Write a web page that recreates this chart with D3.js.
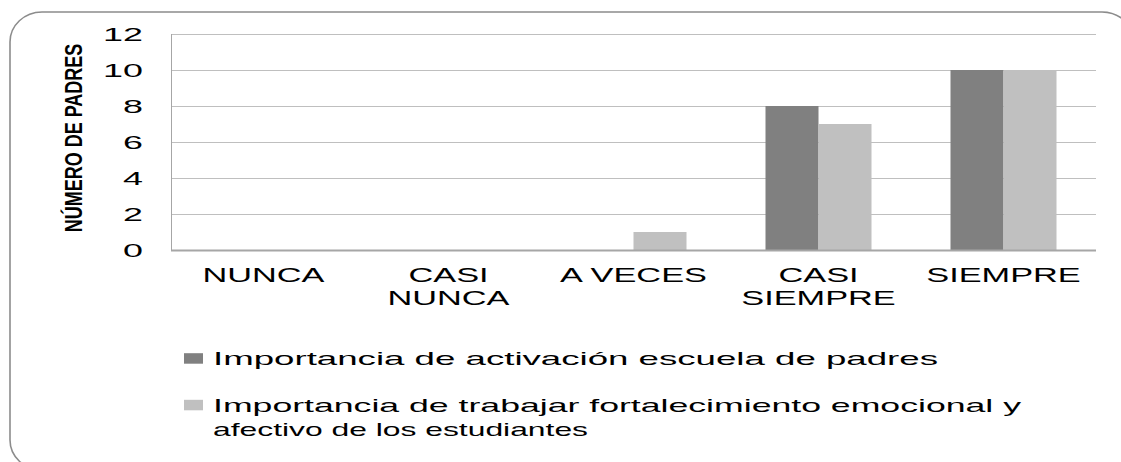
<!DOCTYPE html>
<html>
<head>
<meta charset="utf-8">
<script src="https://cdn.jsdelivr.net/npm/d3@7"></script>
<style>
  html, body { margin: 0; padding: 0; background: #fff; }
  svg { display: block; }
  text { font-family: "Liberation Sans", Arial, sans-serif; fill: #000; }
</style>
</head>
<body>
<svg id="chart" width="1121" height="462"></svg>
<script>
const categories = [["NUNCA"], ["CASI", "NUNCA"], ["A VECES"], ["CASI", "SIEMPRE"], ["SIEMPRE"]];
const categoryKeys = ["NUNCA", "CASI NUNCA", "A VECES", "CASI SIEMPRE", "SIEMPRE"];
const seriesNames = ["Importancia de activación escuela de padres",
                     "Importancia de trabajar fortalecimiento emocional y afectivo de los estudiantes"];
const seriesLegendLines = [["Importancia de activación escuela de padres"],
                           ["Importancia de trabajar fortalecimiento emocional y", "afectivo de los estudiantes"]];
const seriesA = [0, 0, 0, 8, 10];
const seriesB = [0, 0, 1, 7, 10];
const seriesColors = ["#808080", "#c0c0c0"];
const yTicks = [0, 2, 4, 6, 8, 10, 12];
const yTitle = "NÚMERO DE PADRES";

const svg = d3.select("#chart");
const W = 1121, H = 462;
svg.append("rect").attr("width", W).attr("height", H).attr("fill", "#fff");

// frame
svg.append("rect")
  .attr("x", 10).attr("y", 12).attr("width", 1124).attr("height", 458)
  .attr("rx", 32).attr("ry", 30)
  .attr("fill", "none").attr("stroke", "#8c8c8c").attr("stroke-width", 1.6);

const plot = { left: 171, right: 1096, top: 34, bottom: 250 };

const x0 = d3.scaleBand().domain(categoryKeys).range([plot.left, plot.right])
  .paddingInner(0.427).paddingOuter(0.2135);
const x1 = d3.scaleBand().domain([0, 1]).range([0, x0.bandwidth()]);
const y = d3.scaleLinear().domain([0, 12]).range([plot.bottom, plot.top]);

// gridlines
svg.append("g").selectAll("line").data(yTicks.filter(d => d > 0)).join("line")
  .attr("x1", plot.left).attr("x2", plot.right)
  .attr("y1", d => y(d) + 0.5).attr("y2", d => y(d) + 0.5)
  .attr("stroke", "#bfbfbf").attr("stroke-width", 1);

// bars
const data = categoryKeys.map((c, i) => ({ c, v: [seriesA[i], seriesB[i]] }));
const g = svg.append("g").selectAll("g").data(data).join("g")
  .attr("transform", d => `translate(${x0(d.c)},0)`);
g.selectAll("rect").data(d => d.v.map((v, s) => ({ v, s }))).join("rect")
  .attr("x", d => x1(d.s)).attr("width", x1.bandwidth())
  .attr("y", d => y(d.v)).attr("height", d => y(0) - y(d.v))
  .attr("fill", d => seriesColors[d.s]);

// axis lines
svg.append("line").attr("x1", plot.left + 0.5).attr("x2", plot.left + 0.5)
  .attr("y1", plot.top).attr("y2", plot.bottom)
  .attr("stroke", "#a6a6a6").attr("stroke-width", 1);
svg.append("line").attr("x1", plot.left).attr("x2", plot.right)
  .attr("y1", plot.bottom + 0.5).attr("y2", plot.bottom + 0.5)
  .attr("stroke", "#a6a6a6").attr("stroke-width", 2);

// y tick labels
svg.append("g").selectAll("text").data(yTicks).join("text")
  .attr("transform", d => `translate(143,${y(d) + 6.5}) scale(2.05,1)`)
  .attr("text-anchor", "end")
  .attr("font-size", 17.5)
  .text(d => d);

// y title (condensed along its length)
svg.append("text")
  .attr("transform", `translate(81.5,138) scale(1,0.75) rotate(-90)`)
  .attr("text-anchor", "middle")
  .attr("font-size", 24).attr("font-weight", "bold")
  .text(yTitle);

// category labels
const cg = svg.append("g").selectAll("g").data(categoryKeys).join("g")
  .attr("transform", d => `translate(${x0(d) + x0.bandwidth() / 2},0)`);
cg.each(function (d, i) {
  d3.select(this).selectAll("text").data(categories[i]).join("text")
    .attr("transform", (t, j) => `translate(0,${282.3 + j * 23}) scale(1.76,1)`)
    .attr("text-anchor", "middle")
    .attr("font-size", 19.5)
    .text(t => t);
});

// legend
const legY = [351.7, 398.3];
const legWidths = [[725], [808, 375]];
seriesLegendLines.forEach((lines, s) => {
  svg.append("rect").attr("x", 184).attr("y", legY[s] + 1.5).attr("width", 19).attr("height", 10.5)
    .attr("fill", seriesColors[s]);
  lines.forEach((t, j) => {
    svg.append("text")
      .attr("x", 213).attr("y", legY[s] + 13.3 + j * 24)
      .attr("font-size", 18.6)
      .attr("textLength", legWidths[s][j]).attr("lengthAdjust", "spacingAndGlyphs")
      .text(t);
  });
});
</script>
</body>
</html>
